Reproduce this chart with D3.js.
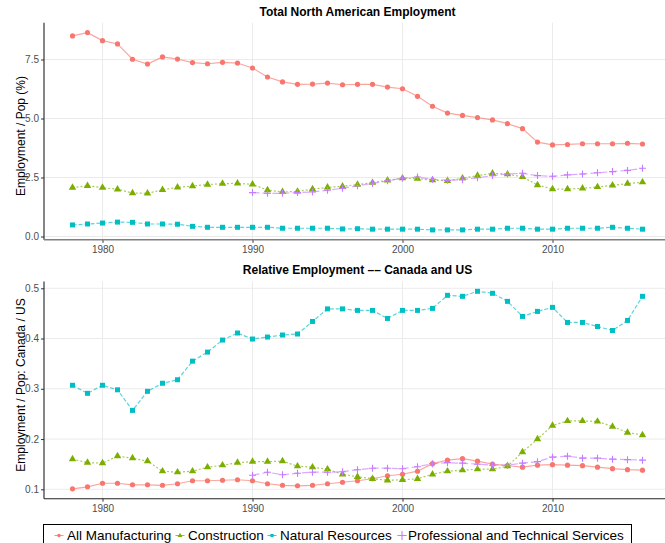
<!DOCTYPE html>
<html>
<head>
<meta charset="utf-8">
<script src="https://cdn.jsdelivr.net/npm/d3@7"></script>
<style>
  body { margin: 0; background: #fff; }
  svg { display: block; font-family: "Liberation Sans", Arial, Helvetica, sans-serif; }
</style>
</head>
<body>
<svg id="canvas" width="665" height="543"></svg>
<script>
let years = [1978,1979,1980,1981,1982,1983,1984,1985,1986,1987,1988,1989,1990,1991,1992,1993,1994,1995,1996,
             1997,1998,1999,2000,2001,2002,2003,2004,2005,2006,2007,2008,2009,2010,2011,2012,2013,2014,2015,2016];

let seriesNames = ["All Manufacturing", "Construction", "Natural Resources", "Professional and Technical Services"];
let xTicks = [1980, 1990, 2000, 2010];

// Total North American Employment (employment / pop, %)
let manTop = [8.50,8.64,8.30,8.16,7.51,7.31,7.61,7.52,7.37,7.32,7.38,7.35,7.14,6.76,6.55,6.45,6.46,6.50,6.43,
              6.45,6.45,6.33,6.26,5.94,5.52,5.23,5.13,5.04,4.94,4.78,4.57,4.00,3.88,3.90,3.93,3.93,3.93,3.95,3.92];
let conTop = [2.07,2.15,2.07,2.00,1.84,1.83,1.98,2.08,2.14,2.20,2.24,2.25,2.21,1.97,1.89,1.91,2.01,2.08,2.13,
              2.20,2.28,2.38,2.47,2.45,2.39,2.36,2.47,2.58,2.68,2.64,2.53,2.18,2.01,2.01,2.04,2.10,2.17,2.24,2.30];
let natTop = [0.49,0.53,0.57,0.61,0.60,0.53,0.53,0.52,0.43,0.39,0.39,0.39,0.39,0.39,0.35,0.35,0.35,0.35,0.32,
              0.33,0.31,0.31,0.31,0.31,0.28,0.28,0.28,0.31,0.31,0.35,0.35,0.31,0.31,0.35,0.35,0.35,0.39,0.35,0.31];
let proTop = [null,null,null,null,null,null,null,null,null,null,null,null,1.86,1.83,1.83,1.86,1.89,1.96,2.04,
              2.15,2.25,2.36,2.47,2.52,2.42,2.38,2.41,2.49,2.58,2.65,2.68,2.58,2.55,2.61,2.65,2.70,2.75,2.80,2.89];
let topTicks = [0, 2.5, 5, 7.5];

// Relative Employment -- Canada and US
let manBot = [0.101,0.105,0.112,0.112,0.109,0.109,0.108,0.111,0.117,0.117,0.118,0.119,0.117,0.111,0.108,0.107,0.108,0.111,0.114,
              0.117,0.121,0.127,0.130,0.136,0.151,0.158,0.161,0.156,0.150,0.147,0.144,0.148,0.149,0.148,0.147,0.144,0.141,0.139,0.138];
let conBot = [0.160,0.153,0.152,0.166,0.162,0.156,0.136,0.134,0.136,0.144,0.148,0.153,0.155,0.155,0.156,0.146,0.144,0.140,0.130,
              0.125,0.121,0.118,0.119,0.121,0.130,0.136,0.138,0.140,0.140,0.146,0.174,0.200,0.227,0.236,0.236,0.235,0.225,0.213,0.208];
let natBot = [0.307,0.291,0.307,0.298,0.257,0.295,0.311,0.318,0.355,0.373,0.397,0.411,0.399,0.403,0.407,0.409,0.434,0.459,0.459,
              0.456,0.456,0.440,0.456,0.456,0.460,0.486,0.484,0.494,0.490,0.474,0.444,0.454,0.462,0.432,0.432,0.424,0.416,0.436,0.484];
let proBot = [null,null,null,null,null,null,null,null,null,null,null,null,0.128,0.134,0.129,0.132,0.134,0.134,0.135,
              0.139,0.142,0.142,0.141,0.145,0.151,0.153,0.152,0.150,0.148,0.148,0.152,0.155,0.164,0.166,0.162,0.162,0.160,0.159,0.158];
let botTicks = [0.1, 0.2, 0.3, 0.4, 0.5];

let colors = ["#F8766D", "#7CAE00", "#00BFC4", "#C77CFF"];
let dashes = [null, "2,2", "4,2", "7,3"];
let shapes = [d3.symbolCircle, d3.symbolTriangle, d3.symbolSquare, null];
let shapeSizes = [21, 24, 25, 0];

let canvas = d3.select("#canvas");

let xScale = d3.scaleLinear().domain([1976.1, 2017.9]).range([44, 671]);

canvas.append("defs").append("clipPath").attr("id", "clip")
      .append("rect").attr("x", 44).attr("y", 0).attr("width", 621).attr("height", 543);

let drawMark = (sel, i, size) => {
    if (shapes[i]) {
        sel.append("path")
           .attr("d", d3.symbol().type(shapes[i]).size(size))
           .attr("fill", colors[i]);
    } else {
        let h = size;
        sel.append("path")
           .attr("d", `M${-h},0H${h}M0,${-h}V${h}`)
           .attr("stroke", colors[i])
           .attr("stroke-width", 1.1)
           .attr("fill", "none");
    }
};

let drawPanel = (cfg) => {
    let yScale = d3.scaleLinear().domain(cfg.domain).range([cfg.bottom, cfg.top]);
    let g = canvas.append("g");

    // grid
    g.selectAll(".hgrid").data(cfg.ticks).enter().append("line")
     .attr("x1", 44).attr("x2", 665)
     .attr("y1", d => yScale(d)).attr("y2", d => yScale(d))
     .attr("stroke", "#ebebeb").attr("stroke-width", 1);
    g.selectAll(".vgrid").data(xTicks).enter().append("line")
     .attr("x1", d => xScale(d)).attr("x2", d => xScale(d))
     .attr("y1", cfg.top).attr("y2", cfg.bottom)
     .attr("stroke", "#ebebeb").attr("stroke-width", 1);

    // series
    let plot = g.append("g").attr("clip-path", "url(#clip)");
    cfg.series.forEach((vals, i) => {
        let pts = years.map((yr, k) => ({ yr: yr, v: vals[k] })).filter(p => p.v !== null);
        let line = d3.line().x(p => xScale(p.yr)).y(p => yScale(p.v));
        plot.append("path")
            .datum(pts)
            .attr("d", line)
            .attr("fill", "none")
            .attr("stroke", colors[i])
            .attr("stroke-opacity", 0.65)
            .attr("stroke-width", 1.2)
            .attr("stroke-dasharray", dashes[i]);
        pts.forEach(p => {
            let m = plot.append("g").attr("transform", `translate(${xScale(p.yr)},${yScale(p.v)})`);
            drawMark(m, i, shapes[i] ? shapeSizes[i] : 3.5);
        });
    });

    // axes
    let yAxis = d3.axisLeft(yScale).tickValues(cfg.ticks).tickSize(3).tickPadding(2)
                  .tickFormat(cfg.format);
    let ya = g.append("g").attr("transform", "translate(44,0)").call(yAxis);
    ya.select(".domain").remove();
    ya.append("line").attr("x1", 0).attr("x2", 0).attr("y1", cfg.top).attr("y2", cfg.bottom)
      .attr("stroke", "#222").attr("stroke-width", 1.1);

    let xAxis = d3.axisBottom(xScale).tickValues(xTicks).tickSize(3).tickPadding(3).tickFormat(d3.format("d"));
    let xa = g.append("g").attr("transform", `translate(0,${cfg.bottom})`).call(xAxis);
    xa.select(".domain").remove();
    xa.append("line").attr("x1", 44).attr("x2", 665).attr("y1", 0).attr("y2", 0)
      .attr("stroke", cfg.axisColor).attr("stroke-width", cfg.axisWidth);

    [ya, xa].forEach(a => {
        a.selectAll(".tick line").attr("stroke", "#333");
        a.selectAll(".tick text").attr("fill", "#4d4d4d").style("font-size", "10px")
         .style("font-family", "'Liberation Sans', Arial, sans-serif");
    });

    // titles
    canvas.append("text")
          .attr("x", 357.5).attr("y", cfg.titleY)
          .attr("text-anchor", "middle")
          .style("font-size", "12px").style("font-weight", "bold")
          .text(cfg.title);
    canvas.append("text")
          .attr("transform", `translate(25,${cfg.labelY}) rotate(-90)`)
          .attr("text-anchor", "middle")
          .style("font-size", "12px")
          .text(cfg.yLabel);
};

drawPanel({
    title: "Total North American Employment",
    yLabel: "Employment / Pop (%)",
    domain: [-0.14, 9.06], top: 22.7, bottom: 239.8,
    ticks: topTicks, format: d3.format(".1f"),
    series: [manTop, conTop, natTop, proTop],
    titleY: 16, labelY: 136, axisColor: "#808080", axisWidth: 1.6
});

drawPanel({
    title: "Relative Employment \u2013\u2013 Canada and US",
    yLabel: "Employment / Pop: Canada / US",
    domain: [0.0813, 0.5137], top: 281.4, bottom: 498.7,
    ticks: botTicks, format: d3.format(".1f"),
    series: [manBot, conBot, natBot, proBot],
    titleY: 274, labelY: 385, axisColor: "#222", axisWidth: 1.1
});

// legend
let legend = canvas.append("g");
legend.append("rect")
      .attr("x", 43.5).attr("y", 524.5).attr("width", 588).attr("height", 30)
      .attr("fill", "#fff").attr("stroke", "#000").attr("stroke-width", 1);

let legendKeyX = [59, 180, 272, 402];
seriesNames.forEach((name, i) => {
    let item = legend.append("g").attr("transform", `translate(${legendKeyX[i]},535.5)`);
    item.append("line").attr("x1", -4.5).attr("x2", 4.5).attr("y1", 0).attr("y2", 0)
        .attr("stroke", colors[i]).attr("stroke-width", 1).attr("stroke-opacity", 0.8);
    drawMark(item, i, shapes[i] ? 10 : 4.5);
    item.append("text")
        .attr("x", i === 3 ? 6 : 8).attr("y", 4.5)
        .style("font-size", "13.5px")
        .attr("fill", "#000")
        .text(name);
});
</script>
</body>
</html>
